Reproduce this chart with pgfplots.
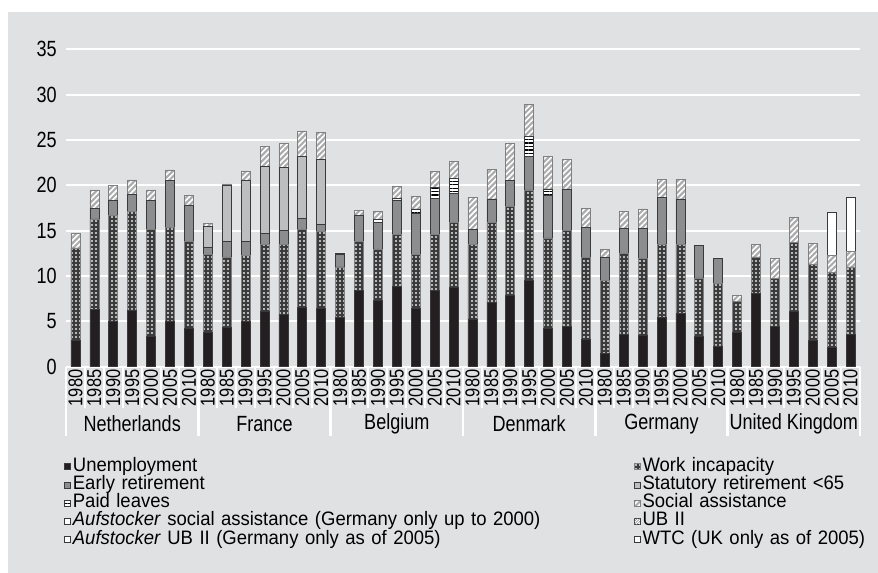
\documentclass[border=0pt]{standalone}
\usepackage{fontspec}
\setmainfont[FakeStretch=0.82]{Liberation Sans}
\newfontfamily\legfont[FakeStretch=0.95]{Liberation Sans}
\usepackage{pgfplots}
\pgfplotsset{compat=1.18}
\usepackage{pgfplotstable}
\usetikzlibrary{patterns,patterns.meta}
\definecolor{bg}{HTML}{E0E1E3}
\definecolor{cU}{HTML}{231F20}
\definecolor{cER}{HTML}{8C8D8F}
\definecolor{cSR}{HTML}{BDBEC0}
\definecolor{cWI}{HTML}{3A3A3A}
\definecolor{cSA}{HTML}{ABABAB}
\definecolor{cbd}{HTML}{3A3A3A}

\pgfplotstableread{
x U WI ER SR PL SA WTC
0 2.9 10.2 0 0 0 1.6 0
1 6.3 10.0 1.15 0 0 2.05 0
2 5.05 11.65 1.6 0 0 1.7 0
3 6.27 10.83 1.9 0 0 1.6 0
4 3.3 11.8 3.2 0 0 1.2 0
5 5.05 10.35 5.1 0 0 1.2 0
6 4.25 9.55 4.05 0 0 1.05 0
7 3.8 8.6 0.8 2.3 0 0.3 0
8 4.3 7.8 1.7 6.2 0 0.15 0
9 5.05 7.25 1.5 6.7 0 1.1 0
10 6.16 7.34 1.2 7.35 0 2.25 0
11 5.8 7.7 1.5 6.95 0 2.65 0
12 6.6 8.6 1.2 6.8 0 2.8 0
13 6.4 8.5 0.75 7.25 0 2.9 0
14 5.5 5.5 1.4 0 0.15 0 0
15 8.4 5.4 2.9 0 0 0.5 0
16 7.27 5.73 2.9 0 0.3 0.9 0
17 8.85 5.75 3.8 0 0.2 1.3 0
18 6.45 5.95 4.5 0 0.5 1.4 0
19 8.37 6.23 3.95 0 1.2 1.75 0
20 8.74 7.16 3.2 0 1.7 1.8 0
21 5.28 8.22 1.6 0 0 3.6 0
22 7.1 8.8 2.6 0 0 3.3 0
23 7.85 9.85 2.8 0 0 4.1 0
24 9.5 10.0 3.7 0 2.2 3.5 0
25 4.25 9.95 4.7 0 0.7 3.6 0
26 4.43 10.57 4.6 0 0 3.3 0
27 3.06 9.0 3.34 0 0 2.1 0
28 1.47 8.03 2.56 0 0 0.9 0
29 3.6 8.9 2.8 0 0 1.85 0
30 3.5 8.4 3.4 0 0 2.1 0
31 5.4 8.1 5.2 0 0 1.95 0
32 5.9 7.6 5.0 0 0 2.2 0
33 3.3 6.5 3.55 0 0 0 0
34 2.3 6.85 2.75 0 0 0 0
35 3.8 3.4 0 0 0 0.7 0
36 8.1 4.0 0 0 0 1.4 0
37 4.4 5.3 0 0 0 2.2 0
38 6.1 7.6 0 0 0 2.8 0
39 2.9 8.35 0 0 0 2.35 0
40 2.15 8.25 0 0 0 1.9 4.7
41 3.6 7.4 0 0 0 1.7 6.0
}\data

\begin{document}
\begin{tikzpicture}
\fill[white] (0,0) rectangle (658.5pt,429.75pt);
\fill[bg] (6pt,0) rectangle (658.5pt,420.75pt);
\useasboundingbox (0,0) rectangle (658.5pt,429.75pt);
\begin{axis}[
  at={(49.5pt,154.7pt)}, anchor=south west,
  scale only axis, width=595.5pt, height=238.05pt,
  xmin=-0.5, xmax=41.5, ymin=0, ymax=35,
  enlargelimits=false, clip=false,
  axis line style={draw=none},
  major tick length=0pt,
  ytick={0,5,...,35},
  ymajorgrids, grid style={white, line width=1.5pt},
  /pgf/number format/assume math mode=true,
  yticklabel style={font=\fontsize{16.5}{18}\selectfont, inner sep=0pt, xshift=-6.75pt},
  xtick={0,...,41},
  xticklabels={1980,1985,1990,1995,2000,2005,2010,1980,1985,1990,1995,2000,2005,2010,1980,1985,1990,1995,2000,2005,2010,1980,1985,1990,1995,2000,2005,2010,1980,1985,1990,1995,2000,2005,2010,1980,1985,1990,1995,2000,2005,2010},
  xticklabel style={font=\fontsize{15}{16}\selectfont, rotate=90, anchor=east, inner sep=0pt, xshift=-2pt},
  ybar stacked, bar width=6.75pt,
  every axis plot/.append style={draw=cbd, line width=0.5pt},
  legend columns=2,
  legend cell align=left,
  legend image code/.code={\draw[#1] (0pt,-2.25pt) rectangle (4.5pt,2.25pt);},
  legend style={at={(-0.0076,-0.277)}, anchor=north west, draw=none, fill=none,
    font=\legfont\fontsize{14.6}{18}\selectfont,
    nodes={inner sep=0pt, text width=420.75pt, text height=10.2pt, text depth=3.5pt},
    /tikz/every odd column/.append style={column sep=1.5pt},
    /tikz/every even column/.append style={column sep=0pt}},
]
\addplot[fill=cU] table[x=x,y=U]{\data};
\addlegendentry{Unemployment}
\addplot[fill=cWI, draw=gray, postaction={pattern={Dots[distance=3pt,radius=0.85pt]}, pattern color=white!90!black}] table[x=x,y=WI]{\data};
\addlegendentry{Work incapacity}
\addplot[fill=cER] table[x=x,y=ER]{\data};
\addlegendentry{Early retirement}
\addplot[fill=cSR] table[x=x,y=SR]{\data};
\addlegendentry{Statutory retirement <65}
\addplot[fill=white, postaction={pattern={Lines[angle=0,distance=2.6pt,line width=1pt]}, pattern color=black}] table[x=x,y=PL]{\data};
\addlegendentry{Paid leaves}
\addplot[fill=cSA, draw=gray, postaction={pattern={Lines[angle=45,distance=3pt,line width=1.2pt]}, pattern color=white}] table[x=x,y=SA]{\data};
\addlegendentry{Social assistance}
\addlegendimage{fill=white, draw=none}
\addlegendentry{\textit{Aufstocker} social assistance (Germany only up to 2000)}
\addlegendimage{fill=white, draw=none, postaction={pattern={Lines[angle=45,distance=1.5pt,line width=0.4pt]}, pattern color=gray}}
\addlegendentry{UB II}
\addlegendimage{fill=white, draw=none}
\addlegendentry{\textit{Aufstocker} UB II (Germany only as of 2005)}
\addplot[fill=white] table[x=x,y=WTC]{\data};
\addlegendentry{WTC (UK only as of 2005)}

\pgfplotsinvokeforeach{0,...,42}{
  \draw[white, line width=1.5pt] (axis cs:#1-0.5,0) -- ++(0pt,-30.75pt);
}
\pgfplotsinvokeforeach{0,7,14,21,28,35,42}{
  \draw[white, line width=2.2pt] (axis cs:#1-0.5,0) -- ++(0pt,-51.75pt);
}
\node[font=\fontsize{16.5}{18}\selectfont] at (axis cs:3,0) [yshift=-42.75pt] {Netherlands};
\node[font=\fontsize{16.5}{18}\selectfont] at (axis cs:10,0) [yshift=-42.75pt] {France};
\node[font=\fontsize{16.5}{18}\selectfont] at (axis cs:17,0) [yshift=-42.75pt] {Belgium};
\node[font=\fontsize{16.5}{18}\selectfont] at (axis cs:24,0) [yshift=-42.75pt] {Denmark};
\node[font=\fontsize{16.5}{18}\selectfont] at (axis cs:31,0) [yshift=-42.75pt] {Germany};
\node[font=\fontsize{16.5}{18}\selectfont] at (axis cs:38,0) [yshift=-42.75pt] {United Kingdom};
\end{axis}
\end{tikzpicture}
\end{document}
